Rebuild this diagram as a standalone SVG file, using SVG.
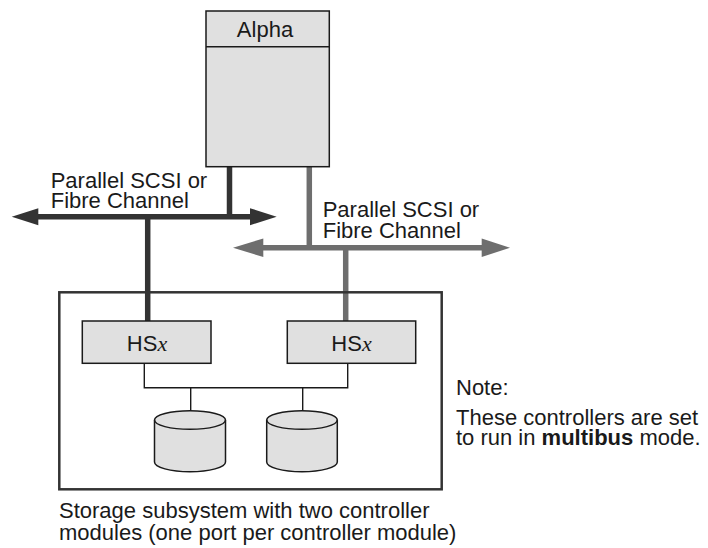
<svg xmlns="http://www.w3.org/2000/svg" width="708" height="548" viewBox="0 0 708 548">
<style>
text{font-family:"Liberation Sans",Arial,Helvetica,sans-serif;font-size:22px;fill:#1a1a1a}
.box{fill:#e0e0e0;stroke:#1a1a1a;stroke-width:1.5}
.thin{fill:none;stroke:#1a1a1a;stroke-width:1.4}
.dark{stroke:#333;stroke-width:5.5;fill:none}
.gray{stroke:#6e6e6e;stroke-width:5.5;fill:none}
.ital{font-family:"Liberation Serif","Times New Roman",serif;font-style:italic}
</style>
<g id="connectors">
<line class="dark" x1="229.5" y1="167" x2="229.5" y2="217"/>
<line class="dark" x1="34" y1="216.7" x2="254" y2="216.7"/>
<polygon points="11.7,216.7 38.3,208.2 38.3,225.2" fill="#333"/>
<polygon points="276.7,216.7 250,208.2 250,225.2" fill="#333"/>
<line class="dark" x1="147.7" y1="217" x2="147.7" y2="321"/>
<line class="gray" x1="309.3" y1="167" x2="309.3" y2="248"/>
<line class="gray" x1="259" y1="247.7" x2="486" y2="247.7"/>
<polygon points="233,247.7 263.3,238.5 263.3,257" fill="#6e6e6e"/>
<polygon points="510,247.7 481.7,238.5 481.7,257" fill="#6e6e6e"/>
<line class="gray" x1="345.7" y1="248" x2="345.7" y2="321"/>
<polyline class="thin" points="144.3,363.3 144.3,387.7 347.7,387.7 347.7,363.3"/>
<line class="thin" x1="190.7" y1="387.7" x2="190.7" y2="410.7"/>
<line class="thin" x1="302.7" y1="387.7" x2="302.7" y2="410.7"/>
</g>
<g id="alpha">
<rect class="box" x="206" y="11" width="123.3" height="155.7"/>
<line class="thin" x1="206" y1="46.7" x2="329.3" y2="46.7"/>
<text x="265" y="37" text-anchor="middle">Alpha</text>
</g>
<g id="label-bus1">
<text x="50.7" y="188.3">Parallel SCSI or</text>
<text x="50.7" y="208.3">Fibre Channel</text>
</g>
<g id="label-bus2">
<text x="322.7" y="216.7">Parallel SCSI or</text>
<text x="322.7" y="237.7">Fibre Channel</text>
</g>
<g id="storage">
<rect x="59.3" y="292.3" width="382.4" height="197" fill="none" stroke="#333" stroke-width="2.5"/>
</g>
<g id="hsx1">
<rect class="box" x="82.3" y="321" width="128.7" height="42.3"/>
<text x="147" y="351" text-anchor="middle">HS<tspan class="ital">x</tspan></text>
</g>
<g id="hsx2">
<rect class="box" x="287.3" y="321" width="128.4" height="42.3"/>
<text x="351.5" y="351" text-anchor="middle">HS<tspan class="ital">x</tspan></text>
</g>
<g id="disk1">
<path class="box" d="M154.5,420 L154.5,462 A35.5,9.7 0 0 0 225.5,462 L225.5,420 A35.5,9.3 0 0 0 154.5,420 Z"/>
<path class="thin" d="M154.5,420 A35.5,9.3 0 0 0 225.5,420"/>
</g>
<g id="disk2">
<path class="box" d="M266.7,420 L266.7,462 A35.3,9.7 0 0 0 337.3,462 L337.3,420 A35.3,9.3 0 0 0 266.7,420 Z"/>
<path class="thin" d="M266.7,420 A35.3,9.3 0 0 0 337.3,420"/>
</g>
<g id="caption">
<text x="59" y="517.5">Storage subsystem with two controller</text>
<text x="59" y="539.5">modules (one port per controller module)</text>
</g>
<g id="note">
<text x="456" y="395">Note:</text>
<text x="456" y="425">These controllers are set</text>
<text x="456" y="445">to run in <tspan font-weight="bold">multibus</tspan> mode.</text>
</g>
</svg>
